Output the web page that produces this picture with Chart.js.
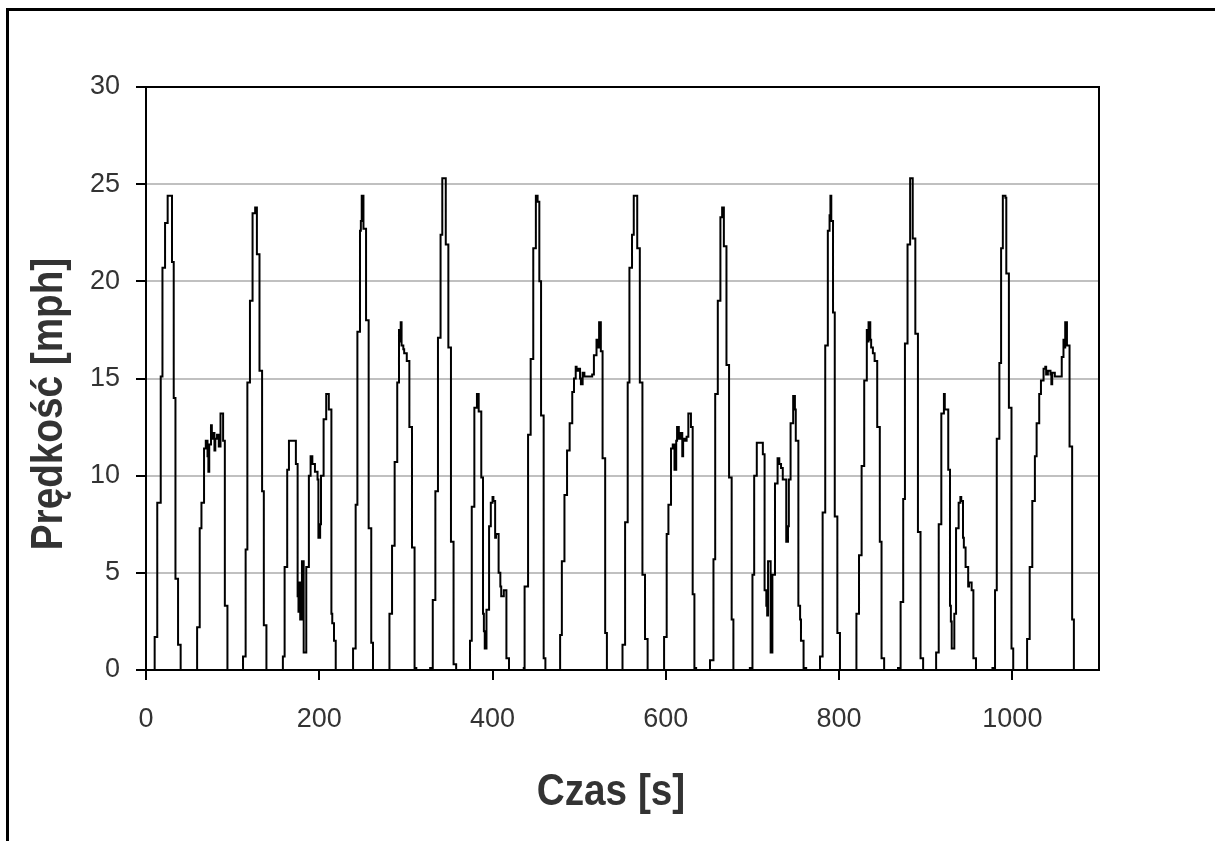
<!DOCTYPE html>
<html>
<head>
<meta charset="utf-8">
<script src="https://cdn.jsdelivr.net/npm/chart.js@4.4.0/dist/chart.umd.min.js"></script>
<style>
  html, body { margin: 0; padding: 0; background: #fff; }
  #wrap { position: relative; width: 1215px; height: 841px; overflow: hidden; }
  #frame { position: absolute; left: 6px; top: 8px; width: 1300px; height: 900px; border-left: 3px solid #000; border-top: 3px solid #000; }
  #speedChart { position: absolute; left: 0; top: 0; }
</style>
</head>
<body>
<div id="wrap">
  <div id="frame"></div>
  <canvas id="speedChart" width="1215" height="841"></canvas>
</div>
<script>
// time [s] where the trace steps to a new speed, one line per hump
const time = [
  0, 10, 13, 17, 19, 22, 25, 30, 32, 34, 37, 40,
  59, 62, 64, 67, 69, 71, 72, 73, 75, 76, 77, 79, 80, 82, 84, 86, 89, 91, 94,
  112, 115, 117, 120, 123, 126, 128, 131, 134, 136, 139,
  158, 160, 163, 165, 173, 175, 176, 177, 178, 180, 182, 185, 188, 190, 192, 195, 198, 199, 201, 202, 205, 208, 211, 214, 215, 217, 219,
  239, 242, 244, 247, 248, 249, 251, 254, 257, 260, 262,
  281, 284, 287, 290, 292, 293, 294, 295, 297, 298, 301, 304, 307, 310, 312,
  328, 331, 334, 337, 340, 342, 346, 349, 352, 355, 358,
  374, 376, 379, 382, 384, 387, 389, 390, 391, 393, 396, 398, 400, 401, 403, 404, 407, 409, 410, 413, 416, 419,
  436, 437, 441, 444, 447, 450, 452, 454, 456, 459, 461,
  478, 480, 483, 486, 489, 492, 494, 496, 497, 499, 501, 502, 504, 506, 511, 515, 517, 520, 521, 523, 525, 527, 530, 532,
  550, 553, 556, 558, 561, 563, 567, 570, 573, 576, 579,
  598, 601, 603, 606, 608, 610, 612, 613, 615, 617, 619, 620, 622, 624, 626, 629, 631, 633, 635,
  651, 655, 657, 660, 663, 665, 667, 670, 673, 676, 678,
  697, 700, 702, 705, 712, 714, 716, 717, 718, 721, 723, 726, 729, 731, 733, 735, 738, 739, 741, 742, 744, 747, 749, 750, 753, 755, 756, 759, 762,
  778, 781, 784, 787, 789, 790, 791, 793, 795, 798, 801,
  820, 823, 826, 829, 832, 833, 834, 836, 837, 839, 841, 844, 847, 849, 852,
  868, 871, 874, 876, 879, 882, 885, 888, 891, 894, 897,
  912, 915, 918, 921, 922, 926, 928, 929, 930, 933, 935, 938, 940, 941, 943, 944, 946, 949, 950, 953, 955, 958,
  977, 980, 982, 985, 987, 989, 992, 993, 996, 999, 1001,
  1017, 1020, 1023, 1026, 1028, 1031, 1033, 1036, 1038, 1039, 1041, 1044, 1045, 1046, 1049, 1055, 1057, 1059, 1060, 1061, 1063, 1066, 1069, 1071, 1075
];

// speed [mph] at those times
const speed = [
  0, 1.7, 8.6, 15.1, 20.7, 23.0, 24.4, 21.0, 14.0, 4.7, 1.3, 0,
  2.2, 7.3, 8.6, 11.4, 11.8, 11.0, 10.2, 11.6, 12.6, 11.9, 12.2, 11.3, 11.9, 12.1, 11.5, 13.2, 11.8, 3.3, 0,
  0.7, 6.2, 14.8, 19.0, 23.5, 23.8, 21.4, 15.4, 9.2, 2.3, 0,
  0.7, 5.3, 10.3, 11.8, 10.6, 3.8, 3.0, 4.5, 2.6, 5.6, 0.9, 5.3, 10.0, 11.0, 10.6, 10.2, 9.8, 6.8, 7.5, 10.0, 12.9, 14.2, 13.4, 2.9, 2.4, 1.5, 0,
  1.1, 8.5, 17.4, 22.6, 23.1, 24.4, 22.7, 18.0, 7.3, 1.4, 0,
  2.9, 6.4, 10.7, 14.8, 17.5, 16.9, 17.9, 16.7, 16.5, 16.3, 15.9, 12.5, 6.3, 0.1, 0,
  0.1, 3.6, 9.2, 17.1, 22.4, 25.3, 21.9, 16.6, 6.6, 0.3, 0,
  1.5, 8.4, 13.5, 14.2, 13.3, 9.9, 2.9, 2.0, 1.1, 3.1, 7.4, 8.6, 8.9, 8.7, 6.8, 7.0, 5.0, 4.3, 3.8, 4.1, 0.6, 0,
  0.1, 4.3, 12.1, 16.0, 21.7, 24.4, 24.1, 20.0, 13.1, 0.6, 0,
  1.8, 5.6, 9.0, 11.3, 12.7, 14.3, 15.0, 15.6, 15.4, 15.5, 15.0, 14.7, 15.3, 15.1, 15.1, 15.2, 16.2, 17.0, 16.6, 17.9, 16.4, 10.9, 1.9, 0,
  1.3, 7.6, 14.8, 20.7, 22.4, 24.4, 21.7, 14.8, 4.9, 1.6, 0,
  1.7, 7.0, 8.5, 11.4, 11.6, 10.3, 11.8, 12.5, 11.9, 12.2, 11.0, 11.9, 11.8, 12.0, 13.2, 12.5, 3.9, 0.1, 0,
  0.5, 5.7, 14.2, 19.0, 23.3, 23.8, 21.8, 15.7, 9.9, 2.6, 0,
  0.1, 4.9, 10.0, 11.7, 11.1, 4.1, 3.3, 2.8, 5.6, 0.9, 4.9, 9.6, 10.9, 10.6, 10.4, 9.8, 9.8, 6.6, 7.4, 9.8, 12.7, 14.1, 13.4, 11.8, 3.3, 2.6, 1.5, 0.1, 0,
  0.7, 8.1, 16.7, 22.6, 23.4, 24.4, 23.1, 18.4, 7.9, 1.9, 0,
  2.9, 5.9, 10.5, 14.9, 17.5, 16.9, 17.9, 17.0, 16.6, 16.3, 15.9, 12.5, 6.6, 0.6, 0,
  0.1, 3.5, 8.8, 16.8, 21.9, 25.3, 22.2, 17.3, 7.1, 0.6, 0,
  0.9, 7.5, 13.2, 14.2, 13.4, 10.3, 3.3, 2.5, 1.1, 2.9, 7.3, 8.6, 8.9, 8.7, 6.8, 6.3, 5.3, 4.3, 4.5, 4.1, 0.6, 0,
  0.1, 4.1, 11.9, 15.8, 21.7, 24.4, 24.3, 20.4, 13.5, 1.1, 0,
  1.6, 5.3, 8.7, 11.0, 12.7, 14.2, 14.9, 15.5, 15.6, 15.2, 15.4, 15.2, 14.7, 15.3, 15.1, 15.1, 16.1, 17.0, 16.6, 17.9, 16.7, 11.5, 2.6, 0, 0
];

const xTicks = [0, 200, 400, 600, 800, 1000];
const yTicks = [0, 5, 10, 15, 20, 25, 30];
const xTitle = 'Czas [s]';
const yTitle = 'Prędkość [mph]';

const FONT = "'Liberation Sans', Arial, sans-serif";
Chart.defaults.font.family = FONT;

// black box round the plot area
const plotFrame = {
  id: 'plotFrame',
  afterDatasetsDraw(chart) {
    const { ctx, chartArea: a } = chart;
    ctx.save();
    ctx.strokeStyle = '#000';
    ctx.lineWidth = 2;
    ctx.strokeRect(a.left, a.top, a.right - a.left, a.bottom - a.top);
    ctx.restore();
  }
};

// axis titles sit a bit off-centre in the original, so place them by hand
// (squeezed sideways a little, the source lettering is narrow)
const axisTitles = {
  id: 'axisTitles',
  afterDraw(chart) {
    const { ctx, chartArea: a } = chart;
    ctx.save();
    ctx.fillStyle = '#333';
    ctx.font = 'bold 45px ' + FONT;
    ctx.textAlign = 'center';
    ctx.textBaseline = 'alphabetic';
    ctx.save();
    ctx.translate(a.left + 465, a.bottom + 135);
    ctx.scale(0.86, 1);
    ctx.fillText(xTitle, 0, 0);
    ctx.restore();
    ctx.translate(a.left - 84, a.top + 317);
    ctx.rotate(-Math.PI / 2);
    ctx.scale(0.86, 1);
    ctx.fillText(yTitle, 0, 0);
    ctx.restore();
  }
};

new Chart(document.getElementById('speedChart'), {
  type: 'line',
  data: {
    datasets: [{
      data: time.map((t, i) => ({ x: t, y: speed[i] })),
      borderColor: '#000',
      borderWidth: 2,
      pointRadius: 0,
      stepped: 'before',
      fill: false
    }]
  },
  options: {
    responsive: false,
    animation: false,
    layout: { padding: { left: 0, top: 87, right: 116, bottom: 0 } },
    plugins: { legend: { display: false }, tooltip: { enabled: false } },
    scales: {
      x: {
        type: 'linear', min: 0, max: 1100,
        afterBuildTicks: s => { s.ticks = xTicks.map(v => ({ value: v })); },
        afterFit: s => { s.height = 171; },
        grid: { drawOnChartArea: false, tickLength: 10, tickColor: '#000', lineWidth: 2 },
        border: { display: false },
        ticks: { color: '#333', font: { size: 27 }, padding: 23, maxRotation: 0, callback: v => String(v) }
      },
      y: {
        min: 0, max: 30,
        afterBuildTicks: s => { s.ticks = yTicks.map(v => ({ value: v })); },
        afterFit: s => { s.width = 146; },
        grid: { color: '#c0c0c0', lineWidth: 2, tickLength: 10, tickColor: '#000' },
        border: { display: false },
        ticks: { color: '#333', font: { size: 27 }, padding: 16 }
      }
    }
  },
  plugins: [plotFrame, axisTitles]
});
</script>
</body>
</html>
